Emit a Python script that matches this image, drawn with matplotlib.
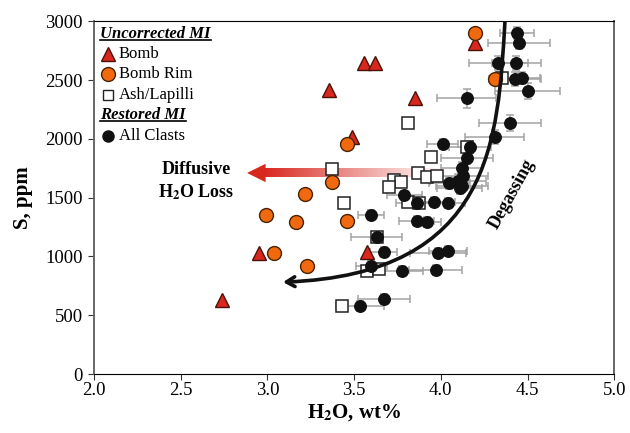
import numpy as np
import matplotlib
matplotlib.use("Agg")
import matplotlib.pyplot as plt
from matplotlib.path import Path
from matplotlib.patches import FancyArrowPatch, Polygon
from matplotlib.lines import Line2D

plt.rcParams['font.family'] = ['Liberation Serif', 'DejaVu Serif']
plt.rcParams['mathtext.fontset'] = 'stix'

# Uncorrected MI - bomb interiors
bomb_h2o = [2.74, 2.95, 3.575, 3.56, 3.62, 3.356, 3.85, 3.49, 4.20]
bomb_s = [630, 1028, 1037, 2643, 2643, 2414, 2346, 2015, 2813]

# Uncorrected MI - bomb rims
rim_h2o = [4.20, 4.31, 3.46, 3.37, 3.22, 2.99, 3.166, 3.46, 3.04, 3.23]
rim_s = [2898, 2508, 1955, 1632, 1530, 1351, 1292, 1300, 1028, 918]

# Uncorrected MI - ash / lapilli
ash_h2o = [3.37, 3.44, 3.945, 4.15, 3.87, 3.92, 3.98, 3.73, 3.77, 3.70,
           3.81, 3.875, 3.63, 3.575, 3.645, 3.43, 4.355, 3.81]
ash_s = [1743, 1453, 1845, 1930, 1708, 1675, 1683, 1649, 1632, 1590,
         1462, 1453, 1165, 876, 892, 578, 2516, 2134]

# Restored MI - all clasts, with 1 sigma errors
rest_h2o = [4.44, 4.45, 4.33, 4.435, 4.43, 4.47, 4.50, 4.15, 4.40, 4.31,
            4.01, 4.17, 4.15, 4.12, 4.13, 4.10, 4.05, 4.12, 4.11, 3.79,
            3.86, 3.96, 4.04, 3.60, 3.63, 3.86, 3.92, 3.67, 3.985, 4.04,
            3.60, 3.775, 3.97, 3.67, 3.535]
rest_s = [2898, 2814, 2644, 2644, 2508, 2515, 2405, 2346, 2133, 2015,
          1955, 1930, 1836, 1751, 1680, 1640, 1624, 1600, 1580, 1520,
          1453, 1462, 1453, 1351, 1165, 1300, 1292, 1037, 1028, 1045,
          918, 876, 884, 637, 578]
rest_xerr = [0.10, 0.18, 0.17, 0.14, 0.15, 0.10, 0.19, 0.17, 0.18, 0.17,
             0.09, 0.12, 0.15, 0.12, 0.14, 0.16, 0.12, 0.15, 0.13, 0.10,
             0.12, 0.12, 0.10, 0.075, 0.145, 0.10, 0.08, 0.08, 0.16, 0.11,
             0.09, 0.12, 0.155, 0.15, 0.14]
rest_yerr = [50, 50, 60, 60, 60, 50, 70, 80, 70, 60,
             40, 50, 50, 50, 60, 60, 50, 50, 50, 40,
             40, 40, 40, 40, 40, 40, 40, 40, 40, 40,
             40, 40, 40, 40, 40]

# degassing trend (bezier control points)
degas_x = [4.37, 4.33, 4.30, 3.09]
degas_s = [3000, 2000, 850, 782]

fig = plt.figure(figsize=(6.3, 4.33), dpi=100)
ax = fig.add_axes([0.149, 0.136, 0.826, 0.815])

ax.errorbar(rest_h2o, rest_s, xerr=rest_xerr, yerr=rest_yerr, fmt='none',
            ecolor='#a3a3a3', elinewidth=1.1, capsize=3, capthick=1.1, zorder=2)
ax.plot(ash_h2o, ash_s, 's', ms=8, mfc='white', mec='#222222', mew=1.1, zorder=3)
ax.plot(rest_h2o, rest_s, 'o', ms=8.3, mfc='#111111', mec='#111111', zorder=4)
ax.plot(bomb_h2o, bomb_s, '^', ms=10.5, mfc='#d8271c', mec='#4a1208', mew=1, zorder=5)
ax.plot(rim_h2o, rim_s, 'o', ms=10, mfc='#f0690f', mec='#4a2200', mew=1, zorder=6)

# degassing curve
path = Path(list(zip(degas_x, degas_s)),
            [Path.MOVETO, Path.CURVE4, Path.CURVE4, Path.CURVE4])
arr = FancyArrowPatch(path=path, arrowstyle='->,head_length=6,head_width=3.5',
                      color='#111111', lw=2.6, zorder=7)
ax.add_patch(arr)

# diffusive H2O loss arrow (gradient shaft)
grad = np.zeros((1, 256, 4))
grad[0, :, 0] = 0.85
grad[0, :, 1] = 0.15
grad[0, :, 2] = 0.12
grad[0, :, 3] = np.linspace(1, 0, 256) ** 1.1
ax.imshow(grad, extent=[2.98, 4.05, 1672, 1748], aspect='auto',
          interpolation='bilinear', zorder=1)
ax.add_patch(Polygon([[2.883, 1710], [2.99, 1788], [2.99, 1632]],
                     closed=True, fc='#d8271c', ec='none', zorder=1))

ax.text(2.59, 1635, 'Diffusive\nH$_\\mathbf{2}$O Loss', ha='center', va='center',
        fontsize=13, fontweight='bold', linespacing=1.3)
ax.text(4.41, 1530, 'Degassing', ha='center', va='center', rotation=61,
        fontsize=13, fontweight='bold')

ax.set_xlim(2.0, 5.0)
ax.set_ylim(0, 3000)
ax.set_xticks(np.arange(2.0, 5.01, 0.5))
ax.set_yticks(np.arange(0, 3001, 500))
ax.set_xticklabels(['%.1f' % v for v in np.arange(2.0, 5.01, 0.5)])
ax.tick_params(direction='out', labelsize=13.5, length=4, color='#333333', pad=2)
ax.tick_params(axis='y', pad=4)
for sp in ['left', 'right']:
    ax.spines[sp].set_color('#666666')
    ax.spines[sp].set_linewidth(1.4)
ax.set_xlabel('H$_\\mathbf{2}$O, wt%', fontsize=15, fontweight='bold', labelpad=2)
ax.set_ylabel('S, ppm', fontsize=15, fontweight='bold', labelpad=9)

# custom legend
items = [
    ('head', 'Uncorrected MI', 0.965),
    ('^', 'Bomb', 0.908),
    ('o', 'Bomb Rim', 0.850),
    ('s', 'Ash/Lapilli', 0.790),
    ('head', 'Restored MI', 0.735),
    ('k', 'All Clasts', 0.676),
]
heads = []
for kind, label, yy in items:
    if kind == 'head':
        t = ax.text(0.012, yy, label, transform=ax.transAxes, fontsize=12,
                    fontweight='bold', fontstyle='italic', va='center', ha='left')
        heads.append(t)
        continue
    if kind == '^':
        st = dict(marker='^', ms=10.5, mfc='#d8271c', mec='#4a1208')
    elif kind == 'o':
        st = dict(marker='o', ms=10, mfc='#f0690f', mec='#4a2200')
    elif kind == 's':
        st = dict(marker='s', ms=7, mfc='white', mec='#222222')
    else:
        st = dict(marker='o', ms=8, mfc='#111111', mec='#111111')
    ax.plot([0.028], [yy], transform=ax.transAxes, clip_on=False, ls='none', **st)
    ax.text(0.048, yy, label, transform=ax.transAxes, fontsize=12,
            va='center', ha='left')

fig.canvas.draw()
inv = ax.transAxes.inverted()
for t in heads:
    bb = t.get_window_extent()
    (x0, y0), (x1, y1) = inv.transform([[bb.x0, bb.y0], [bb.x1, bb.y1]])
    ax.add_line(Line2D([x0, x1], [y0 + 0.004, y0 + 0.004], transform=ax.transAxes,
                       color='black', lw=1.2))

fig.savefig('out.png', dpi=100)
